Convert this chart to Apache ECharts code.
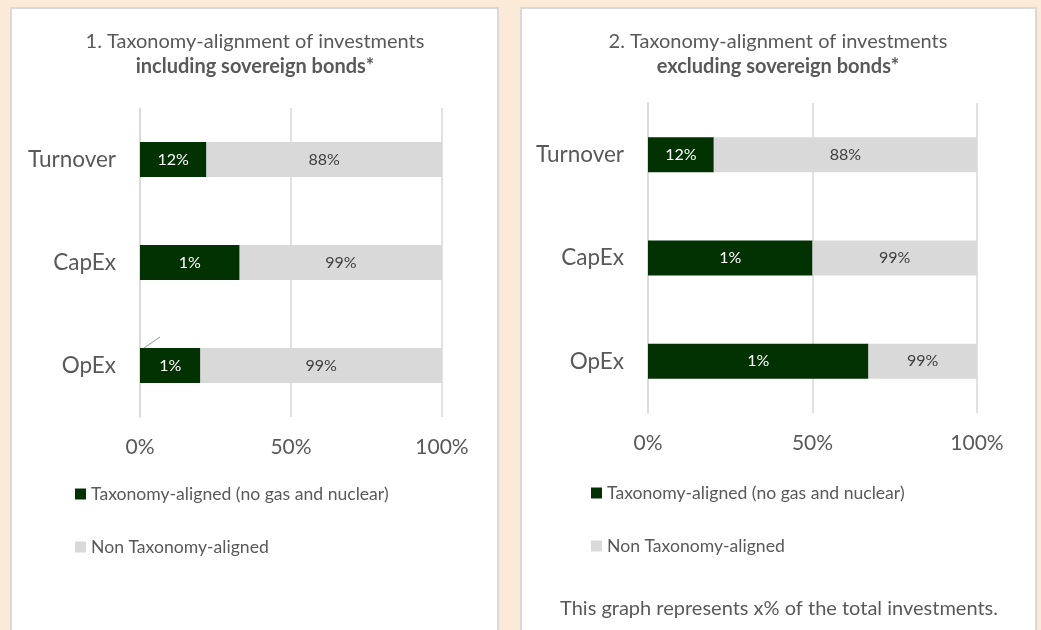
<!DOCTYPE html>
<html>
<head>
<meta charset="utf-8">
<script src="https://cdn.jsdelivr.net/npm/echarts@6/dist/echarts.min.js"></script>
<style>
  html, body { margin: 0; padding: 0; background: #fbead7; }
  #chart { width: 1041px; height: 630px; }
</style>
</head>
<body>
<div id="chart"></div>
<script>
// categories and values
const categories = ["Turnover", "CapEx", "OpEx"];
const xTicks = [0, 50, 100];

// chart 1: including sovereign bonds (bar lengths as drawn)
const alignedIncl = [22, 33, 20];
const nonAlignedIncl = [78, 67, 80];
const alignedInclLabels = ["12%", "1%", "1%"];
const nonAlignedInclLabels = ["88%", "99%", "99%"];

// chart 2: excluding sovereign bonds (bar lengths as drawn)
const alignedExcl = [20, 50, 67];
const nonAlignedExcl = [80, 50, 33];
const alignedExclLabels = ["12%", "1%", "1%"];
const nonAlignedExclLabels = ["88%", "99%", "99%"];

const GREEN = "#023102";
const GREY = "#d9d9d9";
const TEXT = "#595959";
const FONT = "Lato";

const chart = echarts.init(document.getElementById("chart"));

function xAxis(gridIndex) {
    return {
        type: "value",
        gridIndex,
        min: xTicks[0],
        max: xTicks[xTicks.length - 1],
        interval: xTicks[1] - xTicks[0],
        axisLine: { show: false },
        axisTick: { show: false },
        splitLine: { lineStyle: { color: GREY, width: 1.5 } },
        axisLabel: {
            formatter: "{value}%",
            color: TEXT,
            fontFamily: FONT,
            fontSize: 21,
            margin: 20,
        },
    };
}

function yAxis(gridIndex) {
    return {
        type: "category",
        gridIndex,
        inverse: true,
        data: categories,
        axisLine: { lineStyle: { color: GREY, width: 1.5 } },
        axisTick: { length: 7, lineStyle: { color: GREY, width: 1.5 } },
        axisLabel: {
            color: TEXT,
            fontFamily: FONT,
            fontSize: 22.5,
            margin: 24,
        },
    };
}

function barSeries(name, idx, data, labels, color, labelColor) {
    return {
        name,
        type: "bar",
        stack: "total" + idx,
        xAxisIndex: idx,
        yAxisIndex: idx,
        barWidth: 35,
        data,
        itemStyle: { color },
        label: {
            show: true,
            position: "inside",
            color: labelColor,
            fontFamily: FONT,
            fontSize: 16,
            formatter: (p) => labels[p.dataIndex],
        },
        emphasis: { disabled: true },
        animation: false,
    };
}

function legend(left, top) {
    return {
        orient: "vertical",
        left,
        top,
        padding: 0,
        itemWidth: 11,
        itemHeight: 11,
        itemGap: 35,
        icon: "rect",
        data: ["Taxonomy-aligned (no gas and nuclear)", "Non Taxonomy-aligned"],
        textStyle: { color: TEXT, fontFamily: FONT, fontSize: 17.6 },
    };
}

function text(x, y, str, size, weight) {
    return {
        type: "text",
        x,
        y,
        z: 10,
        style: {
            text: str,
            fill: TEXT,
            font: (weight || "normal") + " " + size + "px " + FONT,
            textAlign: "center",
            textVerticalAlign: "middle",
        },
    };
}

chart.setOption({
    backgroundColor: "#fbead7",
    grid: [
        { left: 140, right: 599, top: 108, bottom: 213 },
        { left: 648, right: 64, top: 103, bottom: 217 },
    ],
    xAxis: [xAxis(0), xAxis(1)],
    yAxis: [yAxis(0), yAxis(1)],
    legend: [legend(75, 485), legend(591, 484)],
    series: [
        barSeries("Taxonomy-aligned (no gas and nuclear)", 0, alignedIncl, alignedInclLabels, GREEN, "#ffffff"),
        barSeries("Non Taxonomy-aligned", 0, nonAlignedIncl, nonAlignedInclLabels, GREY, "#404040"),
        barSeries("Taxonomy-aligned (no gas and nuclear)", 1, alignedExcl, alignedExclLabels, GREEN, "#ffffff"),
        barSeries("Non Taxonomy-aligned", 1, nonAlignedExcl, nonAlignedExclLabels, GREY, "#404040"),
    ],
    graphic: [
        // white panels
        { type: "rect", z: -10, shape: { x: 11, y: 8, width: 487, height: 640 },
          style: { fill: "#ffffff", stroke: GREY, lineWidth: 2 } },
        { type: "rect", z: -10, shape: { x: 521, y: 8, width: 515, height: 640 },
          style: { fill: "#ffffff", stroke: GREY, lineWidth: 2 } },
        // titles
        text(255, 42, "1. Taxonomy-alignment of investments", 20),
        text(255, 67, "including sovereign bonds*", 20, "bold"),
        text(778, 42, "2. Taxonomy-alignment of investments", 20),
        text(778, 67, "excluding sovereign bonds*", 20, "bold"),
        // footnote
        text(779, 609, "This graph represents x% of the total investments.", 20),
        // stray label leader line
        { type: "line", z: 10, shape: { x1: 144, y1: 348, x2: 160, y2: 337 },
          style: { stroke: "#7f9f7f", lineWidth: 1 } },
    ],
});
</script>
</body>
</html>
